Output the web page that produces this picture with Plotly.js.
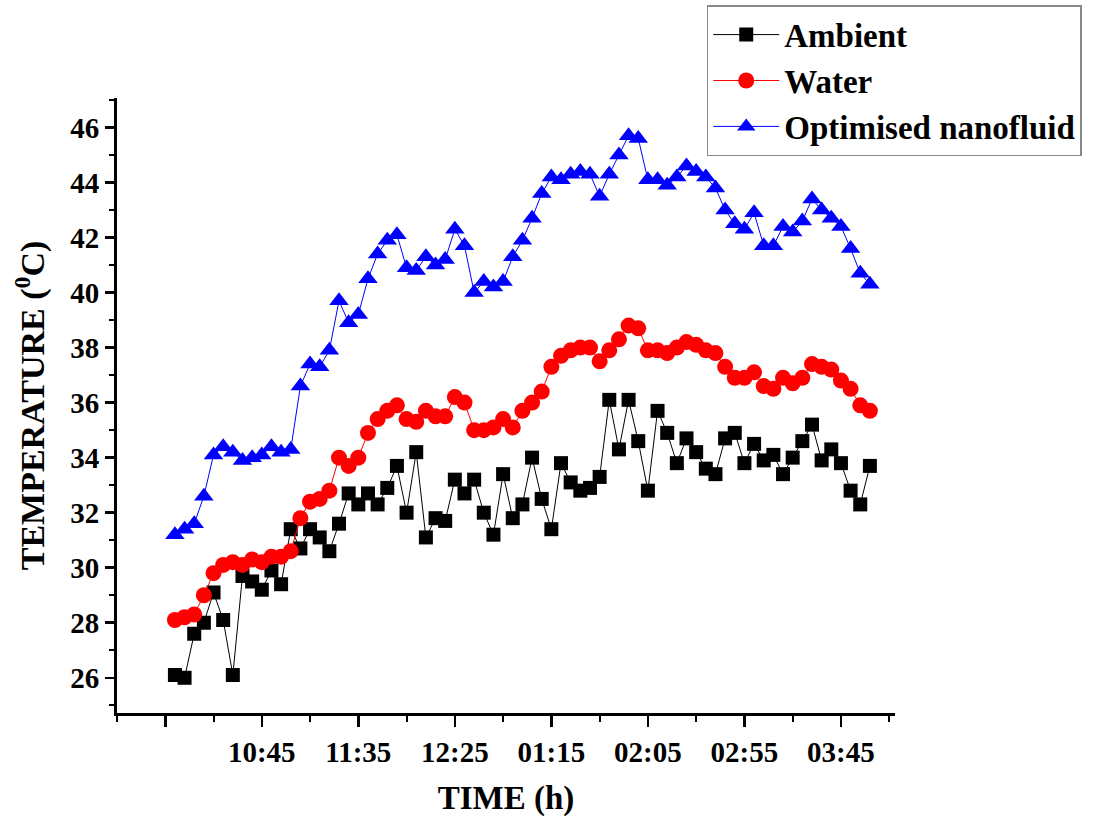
<!DOCTYPE html>
<html>
<head>
<meta charset="utf-8">
<script src="https://cdn.plot.ly/plotly-3.0.1.min.js"></script>
<style>html,body{margin:0;padding:0;background:#fff;}#chart{width:1097px;height:821px;}</style>
</head>
<body>
<div id="chart"></div>
<script>
// Time of each reading (every 5 minutes, 10:00 to 16:00)
const times = ["10:00","10:05","10:10","10:15","10:20","10:25","10:30","10:35","10:40","10:45",
  "10:50","10:55","11:00","11:05","11:10","11:15","11:20","11:25","11:30","11:35",
  "11:40","11:45","11:50","11:55","12:00","12:05","12:10","12:15","12:20","12:25",
  "12:30","12:35","12:40","12:45","12:50","12:55","13:00","13:05","13:10","13:15",
  "13:20","13:25","13:30","13:35","13:40","13:45","13:50","13:55","14:00","14:05",
  "14:10","14:15","14:20","14:25","14:30","14:35","14:40","14:45","14:50","14:55",
  "15:00","15:05","15:10","15:15","15:20","15:25","15:30","15:35","15:40","15:45",
  "15:50","15:55","16:00"];

const ambient = [26.1,26.0,27.6,28.0,29.1,28.1,26.1,29.7,29.5,29.2,
  29.9,29.4,31.4,30.7,31.4,31.1,30.6,31.6,32.7,32.3,
  32.7,32.3,32.9,33.7,32.0,34.2,31.1,31.8,31.7,33.2,
  32.7,33.2,32.0,31.2,33.4,31.8,32.3,34.0,32.5,31.4,
  33.8,33.1,32.8,32.9,33.3,36.1,34.3,36.1,34.6,32.8,
  35.7,34.9,33.8,34.7,34.2,33.6,33.4,34.7,34.9,33.8,
  34.5,33.9,34.1,33.4,34.0,34.6,35.2,33.9,34.3,33.8,
  32.8,32.3,33.7];

const water = [28.1,28.2,28.3,29.0,29.8,30.1,30.2,30.1,30.3,30.2,
  30.4,30.4,30.6,31.8,32.4,32.5,32.8,34.0,33.7,34.0,
  34.9,35.4,35.7,35.9,35.4,35.3,35.7,35.5,35.5,36.2,
  36.0,35.0,35.0,35.1,35.4,35.1,35.7,36.0,36.4,37.3,
  37.7,37.9,38.0,38.0,37.5,37.9,38.3,38.8,38.7,37.9,
  37.9,37.8,38.0,38.2,38.1,37.9,37.8,37.3,36.9,36.9,
  37.1,36.6,36.5,36.9,36.7,36.9,37.4,37.3,37.2,36.8,
  36.5,35.9,35.7];

const nanofluid = [31.2,31.4,31.6,32.6,34.1,34.4,34.2,33.9,34.0,34.1,
  34.4,34.2,34.3,36.6,37.4,37.3,37.9,39.7,38.9,39.2,
  40.5,41.4,41.9,42.1,40.9,40.8,41.3,41.0,41.2,42.3,
  41.7,40.0,40.4,40.2,40.4,41.3,41.9,42.7,43.6,44.2,
  44.1,44.3,44.4,44.3,43.5,44.3,45.0,45.7,45.6,44.1,
  44.1,43.9,44.2,44.6,44.4,44.2,43.8,43.0,42.5,42.3,
  42.9,41.7,41.7,42.4,42.2,42.6,43.4,43.0,42.7,42.4,
  41.6,40.7,40.3];

const tickTimes = ["09:55","10:45","11:35","12:25","13:15","14:05","14:55","15:45"];
const tickLabels = ["","10:45","11:35","12:25","01:15","02:05","02:55","03:45"];

// minutes after 10:00
function toMin(t){ const p=t.split(":"); return (parseInt(p[0],10)-10)*60+parseInt(p[1],10); }
const x = times.map(toMin);
const tickVals = tickTimes.map(toMin);

const font = "Liberation Serif, Times New Roman, serif";

const traces = [
  {x:x, y:ambient, name:"Ambient", type:"scatter", mode:"lines+markers",
   line:{color:"#000000", width:1}, marker:{symbol:"square", size:14, color:"#000000"}},
  {x:x, y:water, name:"Water", type:"scatter", mode:"lines+markers",
   line:{color:"#ff0000", width:1}, marker:{symbol:"circle", size:16, color:"#ff0000"}},
  {x:x, y:nanofluid, name:"Optimised nanofluid", type:"scatter", mode:"lines+markers",
   line:{color:"#0000ff", width:1}, marker:{symbol:"triangle-up", size:17, color:"#0000ff"}}
];

const layout = {
  width:1097, height:821,
  margin:{l:117, r:202, t:98, b:108, autoexpand:false},
  paper_bgcolor:"#ffffff", plot_bgcolor:"#ffffff",
  font:{family:font, color:"#000", size:22},
  showlegend:true,
  legend:{x:0.758, y:1.151, xanchor:"left", yanchor:"top",
    bgcolor:"#ffffff", bordercolor:"#888888", borderwidth:1.5,
    font:{family:font, size:33, color:"#000", weight:"bold"},
    itemwidth:66, tracegroupgap:0},
  xaxis:{
    range:[-30, 373], showgrid:false, zeroline:false,
    showline:true, linecolor:"#000", linewidth:3,
    ticks:"outside", ticklen:11, tickwidth:2.5, tickcolor:"#000",
    tickmode:"array", tickvals:tickVals, ticktext:tickLabels,
    tickfont:{family:font, size:29, weight:"bold"},
    minor:{tickmode:"linear", tick0:-30, dtick:25, ticks:"outside", ticklen:6, tickwidth:2, tickcolor:"#000"},
    title:{text:"TIME (h)", font:{family:font, size:33, weight:"bold"}, standoff:20}
  },
  yaxis:{
    range:[24.72, 47.07], showgrid:false, zeroline:false,
    showline:true, linecolor:"#000", linewidth:3,
    ticks:"outside", ticklen:9, tickwidth:2.5, tickcolor:"#000",
    tickmode:"linear", tick0:26, dtick:2,
    tickfont:{family:font, size:29, weight:"bold"},
    minor:{dtick:1, ticks:"outside", ticklen:5, tickwidth:2, tickcolor:"#000"},
    title:{text:"TEMPERATURE (<sup>0</sup>C)", font:{family:font, size:34, weight:"bold"}, standoff:16}
  }
};

Plotly.newPlot("chart", traces, layout, {displayModeBar:false, staticPlot:true});
</script>
</body>
</html>
